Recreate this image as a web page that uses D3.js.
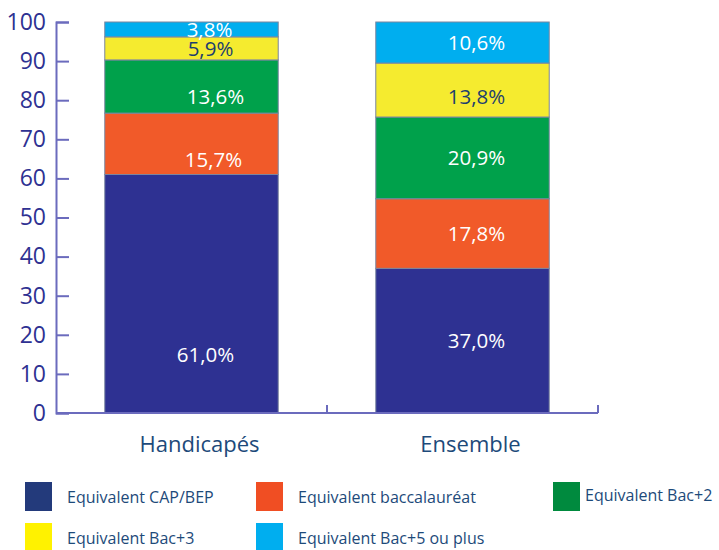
<!DOCTYPE html>
<html>
<head>
<meta charset="utf-8">
<script src="https://cdn.jsdelivr.net/npm/d3@7"></script>
<style>
  body { margin: 0; background: #fff; }
  text { font-family: "Open Sans", sans-serif; }
</style>
</head>
<body>
<svg id="chart"></svg>
<script>
// data
var categories = ["Handicapés", "Ensemble"]
var seriesNames = ["Equivalent CAP/BEP", "Equivalent baccalauréat", "Equivalent Bac+2", "Equivalent Bac+3", "Equivalent Bac+5 ou plus"]
var handicapes = [61.0, 15.7, 13.6, 5.9, 3.8]
var ensemble = [37.0, 17.8, 20.9, 13.8, 10.6]
var yTicks = [0, 10, 20, 30, 40, 50, 60, 70, 80, 90, 100]

// styles
var barColors = ["#2e3192", "#f15a29", "#00a14b", "#f5eb2f", "#00aeef"]
var legendColors = ["#233a7b", "#f04e23", "#008a3e", "#fff200", "#00aeef"]
var labelColors = ["#fff", "#fff", "#fff", "#1d3f6e", "#fff"]
// manual nudges of some labels (pixels), key = category-series
var labelShiftY = { "0-0": 61, "0-1": 16, "0-2": 10, "1-3": 7 }
var labelShiftX = { "0-1": 8, "0-2": 10, "0-3": 5, "0-4": 4 }

var width = 719, height = 550
var margin = {top: 22, right: 121, bottom: 137, left: 56}
var innerW = width - margin.left - margin.right,
    innerH = height - margin.top - margin.bottom

var svg = d3.select("#chart")
    .attr("width", width)
    .attr("height", height)

var g = svg.append("g")
    .attr("transform", "translate(" + margin.left + "," + margin.top + ")")

var x = d3.scaleBand()
    .domain(categories)
    .range([0, innerW])
    .paddingInner(0.36)
    .paddingOuter(0.18)

var y = d3.scaleLinear()
    .domain([0, 100])
    .range([innerH, 0])

var table = categories.map(function(c, i) {
    var vals = i == 0 ? handicapes : ensemble
    var row = {cat: c}
    seriesNames.forEach(function(s, j) { row[s] = vals[j] })
    return row
})

var stacked = d3.stack().keys(seriesNames)(table)

// bars
var layers = g.selectAll("g.layer")
    .data(stacked)
    .enter().append("g")
    .attr("class", "layer")
    .attr("fill", function(d, i) { return barColors[i] })

layers.selectAll("rect")
    .data(function(d) { return d })
    .enter().append("rect")
    .attr("x", function(d) { return x(d.data.cat) })
    .attr("y", function(d) { return y(Math.min(d[1], 100)) })
    .attr("height", function(d) { return y(d[0]) - y(Math.min(d[1], 100)) })
    .attr("width", x.bandwidth())
    .attr("stroke", "#7a86a0")
    .attr("stroke-width", 1)

// value labels
stacked.forEach(function(layer, i) {
    layer.forEach(function(d, j) {
        var top = Math.min(d[1], 100)
        var key = j + "-" + i
        g.append("text")
            .attr("x", x(d.data.cat) + x.bandwidth() / 2 + 14 + (labelShiftX[key] || 0))
            .attr("y", (y(d[0]) + y(top)) / 2 + (labelShiftY[key] || 0))
            .attr("dy", "0.35em")
            .attr("text-anchor", "middle")
            .attr("fill", labelColors[i])
            .style("font-size", "20.5px")
            .text(d3.format(".1f")(d.data[seriesNames[i]]).replace(".", ",") + "%")
    })
})

// axes
var axisColor = "#6b6bbd"

var yAxis = g.append("g")
    .call(d3.axisLeft(y).tickValues(yTicks).tickSize(-13).tickPadding(24))
yAxis.select(".domain").attr("stroke", axisColor).attr("stroke-width", 2)
yAxis.selectAll(".tick line").attr("stroke", axisColor).attr("stroke-width", 2)
yAxis.selectAll(".tick text")
    .attr("fill", "#2e3192")
    .style("font-size", "23px")
    .attr("x", -10)

var xAxis = g.append("g")
    .attr("transform", "translate(0," + innerH + ")")
xAxis.append("line")
    .attr("x1", 0).attr("x2", innerW)
    .attr("stroke", axisColor).attr("stroke-width", 2)
xAxis.selectAll("line.sep")
    .data([innerW / 2, innerW])
    .enter().append("line")
    .attr("class", "sep")
    .attr("x1", function(d) { return d }).attr("x2", function(d) { return d })
    .attr("y1", 0).attr("y2", -8)
    .attr("stroke", axisColor).attr("stroke-width", 2)

xAxis.selectAll("text.cat")
    .data(categories)
    .enter().append("text")
    .attr("class", "cat")
    .attr("x", function(d) { return x(d) + x.bandwidth() / 2 + 8 })
    .attr("y", 39)
    .attr("text-anchor", "middle")
    .attr("fill", "#1d4a7a")
    .style("font-size", "22px")
    .text(function(d) { return d })

// legend
var legendPos = [[25, 482], [256, 482], [553, 482], [25, 523], [256, 523]]
var legend = svg.append("g")
legend.selectAll("rect")
    .data(seriesNames)
    .enter().append("rect")
    .attr("x", function(d, i) { return legendPos[i][0] })
    .attr("y", function(d, i) { return legendPos[i][1] })
    .attr("width", 27)
    .attr("height", 29)
    .attr("fill", function(d, i) { return legendColors[i] })

legend.selectAll("text")
    .data(seriesNames)
    .enter().append("text")
    .attr("x", function(d, i) { return legendPos[i][0] + (i == 2 ? 32 : 42) })
    .attr("y", function(d, i) { return legendPos[i][1] + (i == 2 ? 19 : 21) })
    .attr("fill", "#1d4a7a")
    .style("font-size", "16px")
    .text(function(d) { return d })
</script>
</body>
</html>
